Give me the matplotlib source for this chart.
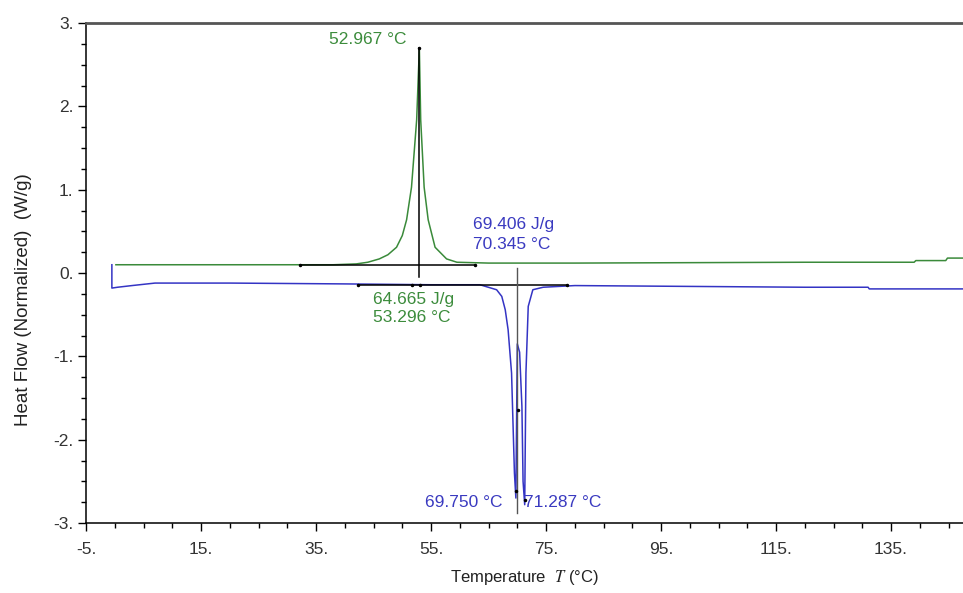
import numpy as np
import matplotlib.pyplot as plt
from matplotlib.ticker import MultipleLocator, FixedLocator, FuncFormatter

plt.rcParams['font.family'] = ['Liberation Sans', 'DejaVu Sans']
plt.rcParams['mathtext.fontset'] = 'stix'

# green trace (exotherm)
green_T = [0.2, 10, 20, 30, 35, 38, 42, 44, 46.0, 47.5, 49.0, 50.0, 50.75, 51.6, 52.5, 52.967,
           53.2, 53.8, 54.5, 55.7, 57.7, 59.5, 65, 80, 100, 120, 139, 139.3, 144.5, 144.8, 147.5]
green_hf = [0.10, 0.10, 0.10, 0.10, 0.10, 0.10, 0.11, 0.13, 0.17, 0.22, 0.31, 0.45, 0.64, 1.03, 1.84, 2.70,
            1.84, 1.03, 0.64, 0.31, 0.17, 0.13, 0.12, 0.12, 0.125, 0.13, 0.13, 0.15, 0.15, 0.18, 0.18]

# blue trace (double endotherm)
blue_T = [-0.5, -0.5, 0.5, 3, 7, 20, 40, 55, 63.5, 66.4, 67.3, 67.9, 68.4, 69.0, 69.5, 69.75, 70.0, 70.4,
          70.8, 71.0, 71.287, 71.5, 71.9, 72.7, 74.5, 80, 100, 120, 131, 131.2, 147.5]
blue_hf = [0.10, -0.18, -0.17, -0.15, -0.12, -0.12, -0.13, -0.14, -0.14, -0.2, -0.28, -0.44, -0.68, -1.2,
           -2.4, -2.70, -0.85, -0.95, -1.6, -2.5, -2.78, -1.2, -0.4, -0.2, -0.17, -0.15, -0.16, -0.17,
           -0.17, -0.19, -0.19]

# integration baselines / peak markers
green_base_T = [32.2, 62.7]
green_base_hf = [0.10, 0.10]
green_peak_T = 52.967
green_peak_hf = 2.70
blue_base_T = [42.3, 51.7, 53.1, 78.6]
blue_base_hf = [-0.14, -0.14, -0.14, -0.14]
blue_peak_line_T = 70.0
blue_dots_T = [69.75, 70.1, 71.287]
blue_dots_hf = [-2.62, -1.64, -2.72]

x_ticks = np.arange(-5, 150, 20)

green_c = '#3a8a3a'
blue_c = '#3434c4'
green_txt = '#3c8c3c'
blue_txt = '#3a3ac0'

fig = plt.figure(figsize=(9.63, 5.93), dpi=100)
ax = fig.add_axes([0.0893, 0.118, 0.9107, 0.843])

ax.plot(green_T, green_hf, color=green_c, lw=1.1)
ax.plot(blue_T, blue_hf, color=blue_c, lw=1.1)

# green annotations
ax.plot(green_base_T, green_base_hf, color='black', lw=1.1)
ax.plot(green_base_T, green_base_hf, 'k.', ms=3)
ax.plot([green_peak_T, green_peak_T], [-0.05, green_peak_hf], color='black', lw=1.1)
ax.plot([green_peak_T], [green_peak_hf], 'k.', ms=3)

# blue annotations
ax.plot([blue_base_T[0], blue_base_T[-1]], [blue_base_hf[0], blue_base_hf[-1]], color='black', lw=1.1)
ax.plot(blue_base_T, blue_base_hf, 'k.', ms=3)
ax.plot([blue_peak_line_T, blue_peak_line_T], [0.06, -2.88], color='#555555', lw=1.0)
ax.plot(blue_dots_T, blue_dots_hf, 'k.', ms=3)

fs = 12.5
ax.text(50.7, 2.80, '52.967 °C', color=green_txt, fontsize=fs, ha='right', va='center')
ax.text(62.3, 0.58, '69.406 J/g', color=blue_txt, fontsize=fs, ha='left', va='center')
ax.text(62.3, 0.34, '70.345 °C', color=blue_txt, fontsize=fs, ha='left', va='center')
ax.text(44.9, -0.32, '64.665 J/g', color=green_txt, fontsize=fs, ha='left', va='center')
ax.text(44.9, -0.53, '53.296 °C', color=green_txt, fontsize=fs, ha='left', va='center')
ax.text(67.4, -2.75, '69.750 °C', color=blue_txt, fontsize=fs, ha='right', va='center')
ax.text(71.2, -2.75, '71.287 °C', color=blue_txt, fontsize=fs, ha='left', va='center')

ax.set_xlim(-5, 147.5)
ax.set_ylim(-3, 3)
ax.xaxis.set_major_locator(FixedLocator(x_ticks))
ax.xaxis.set_minor_locator(MultipleLocator(5))
ax.yaxis.set_major_locator(MultipleLocator(1))
ax.yaxis.set_minor_locator(MultipleLocator(0.25))
fmt = FuncFormatter(lambda v, p: '%g.' % v)
ax.xaxis.set_major_formatter(fmt)
ax.yaxis.set_major_formatter(fmt)
ax.tick_params(which='major', direction='out', length=6, width=1, labelsize=12.5, colors='black')
ax.tick_params(which='minor', direction='out', length=3.5, width=1)
ax.tick_params(axis='x', which='major', pad=8)
ax.tick_params(axis='y', which='major', pad=3)
for lbl in ax.get_xticklabels() + ax.get_yticklabels():
    lbl.set_color('#333333')

ax.spines['right'].set_visible(False)
ax.spines['top'].set_color('#555555')
ax.spines['top'].set_linewidth(2)
ax.spines['left'].set_linewidth(1.1)
ax.spines['bottom'].set_linewidth(1.1)

ax.set_xlabel('Temperature  $\\mathit{T}$ (°C)', fontsize=12, color='#222222')
ax.xaxis.set_label_coords(0.5, -0.09)
ax.set_ylabel('Heat Flow (Normalized)  (W/g)', fontsize=13.5, color='#222222')
ax.yaxis.set_label_coords(-0.061, 0.446)

fig.savefig('out.png', dpi=100, facecolor='white')
